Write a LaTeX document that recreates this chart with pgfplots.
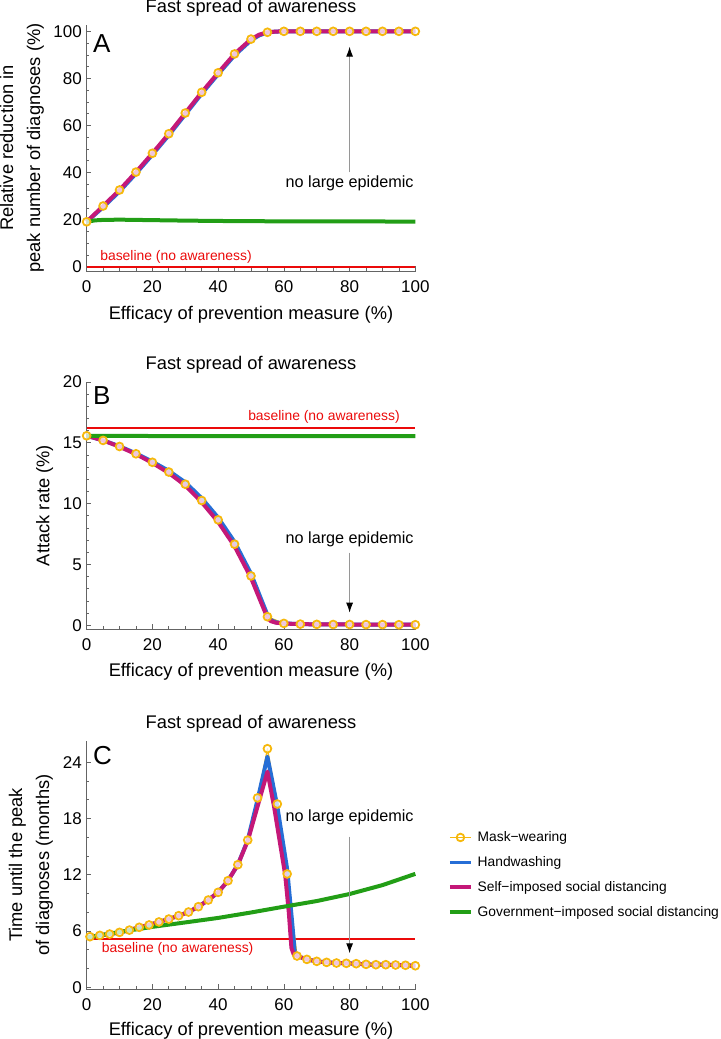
\documentclass[border=0pt]{standalone}
\usepackage{fontspec}
\setmainfont{Liberation Sans}
\usepackage{pgfplots}
\pgfplotsset{compat=1.18}
\usetikzlibrary{arrows.meta}
\definecolor{mkyellow}{RGB}{246,184,12}
\definecolor{hwblue}{RGB}{38,110,214}
\definecolor{sdmag}{RGB}{196,24,120}
\definecolor{gvgreen}{RGB}{34,158,22}
\definecolor{basered}{RGB}{235,10,10}
\definecolor{arrgray}{RGB}{150,150,150}
\definecolor{axgray}{RGB}{100,100,100}
\pgfplotsset{
 every axis title shift=0pt,
 panel/.style={
  scale only axis, width=330bp, xmin=-0.2, xmax=100.2,
  axis x line*=bottom, axis y line*=left,
  axis line style={-, draw=axgray, line width=0.8bp},
  tick style={draw=axgray, line width=0.7bp},
  tick align=inside, major tick length=5bp, minor tick length=2.8bp,
  xtick={0,20,...,100}, minor x tick num=3,
  /pgf/number format/assume math mode=true,
  tick label style={font=\fontsize{17bp}{20bp}\selectfont},
  xticklabel style={inner sep=0pt, anchor=north, yshift=-9bp},
  yticklabel style={inner sep=0pt, anchor=east, xshift=-4bp},
  label style={font=\fontsize{18.3bp}{27bp}\selectfont},
  title style={at={(axis description cs:0.5,1)}, anchor=base, yshift=12bp, inner sep=0pt, font=\fontsize{18.3bp}{21bp}\selectfont},
  xlabel={Efficacy of prevention measure (\%)},
  title={Fast spread of awareness},
  clip=false,
 },
 mkline/.style={mkyellow, line width=1.2bp, forget plot, line join=round},
 mkmarks/.style={only marks, mark=*, mark size=3.9bp, mark options={draw=mkyellow, fill=white, fill opacity=0.75, line width=1.8bp}, forget plot},
 hwline/.style={hwblue, line width=4bp, forget plot, line join=round},
 sdline/.style={sdmag, line width=4bp, forget plot, line join=round},
 gvline/.style={gvgreen, line width=4bp, forget plot, line join=round},
 redline/.style={color=basered, solid, line width=2bp, mark=none, forget plot},
}
\tikzset{
 noarrow/.style={draw=arrgray, line width=1bp, -{Latex[black, length=10bp, width=7bp]}},
 annot/.style={inner sep=0pt, font=\fontsize{16.2bp}{19bp}\selectfont},
 basetxt/.style={inner sep=0pt, text=basered, font=\fontsize{13.9bp}{16bp}\selectfont},
 letter/.style={inner sep=0pt, anchor=base west, font=\fontsize{26bp}{30bp}\selectfont},
}
\begin{document}
\begin{tikzpicture}
\useasboundingbox (0,0) rectangle (721bp,1039bp);
% ---------------- Panel A
\begin{axis}[panel, at={(86bp,768bp)}, anchor=south west, height=246bp,
  ymin=-1.8, ymax=102.7, ytick={0,20,...,100}, minor y tick num=3,
  xlabel style={at={(axis description cs:0.5,0)}, anchor=base, yshift=-49bp, inner sep=0pt},
  ylabel={Relative reduction in\\peak number of diagnoses (\%)},
  ylabel style={at={(axis description cs:-0.1267,0.5)}, anchor=south, inner sep=0pt, align=center}]
\addplot[redline] coordinates {(0,0) (100,0)};
\addplot[mkline] coordinates {(0,19.1)(5,25.8)(10,32.6)(15,40.2)(20,48.2)(25,56.5)(30,65.3)(35,74.1)(40,82.4)(45,90.4)(50,96.7)(55,99.6)(60,100)(65,100)(70,100)(75,100)(80,100)(85,100)(90,100)(95,100)(100,100)};
\addplot[hwline] coordinates {(0,19.1)(5,25.3)(10,32.0)(15,39.6)(20,47.6)(25,55.9)(30,64.7)(35,73.5)(40,81.8)(45,89.8)(50,96.2)(52.5,98.3)(55,99.5)(57.5,99.9)(60,100)(100,100)};
\addplot[sdline] coordinates {(0,19.1)(5,25.8)(10,32.6)(15,40.2)(20,48.2)(25,56.5)(30,65.3)(35,74.1)(40,82.4)(45,90.4)(50,96.7)(52.5,98.6)(55,99.6)(57.5,99.9)(60,100)(100,100)};
\addplot[gvline] coordinates {(0,19.1)(2.5,19.7)(5,19.9)(10,20.0)(15,19.9)(20,19.8)(30,19.6)(40,19.45)(50,19.35)(60,19.3)(80,19.25)(100,19.2)};
\addplot[mkmarks] coordinates {(0,19.1)(5,25.8)(10,32.6)(15,40.2)(20,48.2)(25,56.5)(30,65.3)(35,74.1)(40,82.4)(45,90.4)(50,96.7)(55,99.6)(60,100)(65,100)(70,100)(75,100)(80,100)(85,100)(90,100)(95,100)(100,100)};
\node[letter] at (axis cs:1.9,91.1) {A};
\node[basetxt, anchor=base west] at (axis cs:4.1,2.85) {baseline (no awareness)};
\node[annot, anchor=base] at (axis cs:80,33.7) {no large epidemic};
\draw[noarrow] (axis cs:80,40.1) -- (axis cs:80,93.5);
\end{axis}
% ---------------- Panel B
\begin{axis}[panel, at={(86bp,410bp)}, anchor=south west, height=247bp,
  ymin=-0.3, ymax=20, ytick={0,5,...,20}, minor y tick num=4,
  xlabel style={at={(axis description cs:0.5,0)}, anchor=base, yshift=-48bp, inner sep=0pt},
  ylabel={Attack rate (\%)},
  ylabel style={at={(axis description cs:-0.099,0.5)}, anchor=south, inner sep=0pt}]
\addplot[redline] coordinates {(0,16.24) (100,16.24)};
\addplot[mkline] coordinates {(0,15.58)(5,15.2)(10,14.7)(15,14.1)(20,13.4)(25,12.6)(30,11.6)(35,10.26)(40,8.67)(45,6.67)(50,4.06)(55,0.71)(60,0.16)(65,0.1)(70,0.08)(75,0.07)(80,0.07)(85,0.06)(90,0.06)(95,0.05)(100,0.05)};
\addplot[hwline] coordinates {(0,15.58)(5,15.2)(10,14.72)(15,14.13)(20,13.45)(25,12.7)(30,11.75)(35,10.45)(40,8.85)(45,6.85)(50,4.25)(52.5,2.55)(55,0.85)(56,0.45)(57.5,0.25)(60,0.16)(65,0.1)(70,0.08)(80,0.07)(90,0.06)(100,0.05)};
\addplot[sdline] coordinates {(0,15.58)(5,15.2)(10,14.68)(15,14.07)(20,13.35)(25,12.52)(30,11.5)(35,10.12)(40,8.5)(45,6.5)(50,3.9)(52.5,2.25)(55,0.62)(56,0.35)(57.5,0.22)(60,0.15)(65,0.1)(70,0.08)(80,0.07)(90,0.06)(100,0.05)};
\addplot[gvline] coordinates {(0,15.58)(20,15.56)(50,15.55)(100,15.55)};
\addplot[mkmarks] coordinates {(0,15.58)(5,15.2)(10,14.7)(15,14.1)(20,13.4)(25,12.6)(30,11.6)(35,10.26)(40,8.67)(45,6.67)(50,4.06)(55,0.71)(60,0.16)(65,0.1)(70,0.08)(75,0.07)(80,0.07)(85,0.06)(90,0.06)(95,0.05)(100,0.05)};
\node[letter] at (axis cs:1.9,18.13) {B};
\node[basetxt, anchor=base east] at (axis cs:95.3,16.84) {baseline (no awareness)};
\node[annot, anchor=base] at (axis cs:80,6.75) {no large epidemic};
\draw[noarrow] (axis cs:80,5.98) -- (axis cs:80,1.04);
\end{axis}
% ---------------- Panel C
\begin{axis}[panel, at={(86bp,50bp)}, anchor=south west, height=248bp,
  ymin=-0.18, ymax=26.27, ytick={0,6,...,24}, minor y tick num=2,
  xlabel style={at={(axis description cs:0.5,0)}, anchor=base, yshift=-46bp, inner sep=0pt},
  ylabel={Time until the peak\\of diagnoses (months)},
  ylabel style={at={(axis description cs:-0.0994,0.5)}, anchor=south, inner sep=0pt, align=center},
  legend style={at={(axis description cs:1.097,0.635)}, anchor=north west, draw=none, fill=none, inner sep=0pt,
    font=\fontsize{13.8bp}{16.5bp}\selectfont, row sep=13.3bp, column sep=5bp, nodes={inner sep=0pt}},
  legend cell align=left,
  legend image code/.code={\draw[mark repeat=2, mark phase=2, #1] plot coordinates {(0bp,0bp) (10.5bp,0bp) (21bp,0bp)};}]
\addlegendimage{mkyellow, line width=1.5bp, mark=o, mark size=3.8bp, mark options={line width=1.8bp}}
\addlegendentry{Mask−wearing}
\addlegendimage{hwblue, line width=3.5bp}
\addlegendentry{Handwashing}
\addlegendimage{sdmag, line width=3.5bp}
\addlegendentry{Self−imposed social distancing}
\addlegendimage{gvgreen, line width=3.5bp}
\addlegendentry{Government−imposed social distancing}
\addplot[redline] coordinates {(0,5.12) (100,5.12)};
\addplot[mkline] coordinates {(1,5.4)(4,5.54)(7,5.68)(10,5.86)(13,6.1)(16,6.4)(19,6.65)(22,6.97)(25,7.28)(28,7.64)(31,8.03)(34,8.6)(37,9.31)(40,10.13)(43,11.37)(46,13.08)(49,15.7)(52,20.2)(55,25.45)(58,19.55)(61,12.09)(64,3.34)(67,2.98)(70,2.77)(73,2.66)(76,2.59)(79,2.56)(82,2.52)(85,2.45)(88,2.41)(91,2.41)(94,2.38)(97,2.35)(100,2.3)};
\addplot[hwline] coordinates {(0,5.35)(4,5.54)(7,5.68)(10,5.86)(13,6.1)(16,6.4)(19,6.65)(22,6.97)(25,7.28)(28,7.64)(31,8.03)(34,8.6)(37,9.31)(40,10.13)(43,11.37)(46,13.08)(49,15.7)(52,20.0)(55,24.6)(58,19.3)(61,12.6)(62.5,7.0)(63.3,3.8)(64,3.34)(67,2.98)(70,2.77)(73,2.66)(76,2.59)(79,2.56)(82,2.52)(85,2.45)(88,2.41)(91,2.41)(94,2.38)(97,2.35)(100,2.3)};
\addplot[sdline] coordinates {(0,5.35)(4,5.54)(7,5.68)(10,5.86)(13,6.1)(16,6.4)(19,6.65)(22,6.97)(25,7.28)(28,7.64)(31,8.03)(34,8.6)(37,9.31)(40,10.13)(43,11.37)(46,13.08)(49,15.6)(52,19.3)(55,23.0)(57,19.3)(59,15.0)(60.4,12.0)(61.5,8.0)(62.3,4.2)(63,3.5)(64,3.34)(67,2.98)(70,2.77)(73,2.66)(76,2.59)(79,2.56)(82,2.52)(85,2.45)(88,2.41)(91,2.41)(94,2.38)(97,2.35)(100,2.3)};
\addplot[gvline] coordinates {(0,5.3)(10,5.9)(20,6.45)(30,6.92)(40,7.4)(50,7.98)(60,8.6)(70,9.2)(80,9.95)(90,10.9)(100,12.1)};
\addplot[mkmarks] coordinates {(1,5.4)(4,5.54)(7,5.68)(10,5.86)(13,6.1)(16,6.4)(19,6.65)(22,6.97)(25,7.28)(28,7.64)(31,8.03)(34,8.6)(37,9.31)(40,10.13)(43,11.37)(46,13.08)(49,15.7)(52,20.2)(55,25.45)(58,19.55)(61,12.09)(64,3.34)(67,2.98)(70,2.77)(73,2.66)(76,2.59)(79,2.56)(82,2.52)(85,2.45)(88,2.41)(91,2.41)(94,2.38)(97,2.35)(100,2.3)};
\node[letter] at (axis cs:1.9,23.8) {C};
\node[basetxt, anchor=base west] at (axis cs:4.6,3.69) {baseline (no awareness)};
\node[annot, anchor=base] at (axis cs:80,17.66) {no large epidemic};
\draw[noarrow] (axis cs:80,16.07) -- (axis cs:80,3.63);
\end{axis}
\end{tikzpicture}
\end{document}
